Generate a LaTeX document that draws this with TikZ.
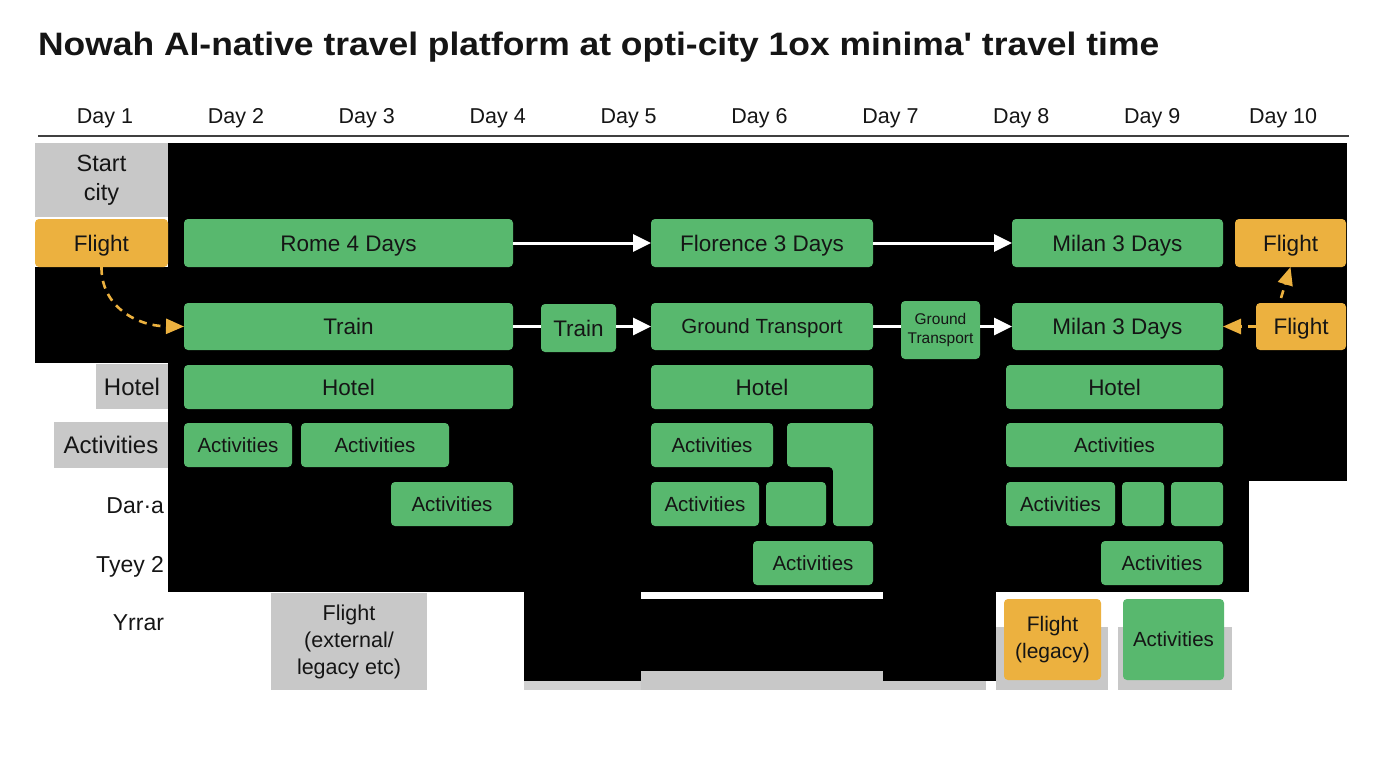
\documentclass[tikz,border=0pt]{standalone}
\usepackage{fontspec}
\setmainfont{Liberation Sans}
\newfontfamily\titlefont[Ligatures=TeXOff]{Liberation Sans}
\usetikzlibrary{arrows.meta,calc}
\definecolor{gboxc}{HTML}{58B86E}
\definecolor{oboxc}{HTML}{ECB13F}
\definecolor{grayc}{HTML}{C8C8C8}
\definecolor{inkc}{HTML}{151515}
\newcommand{\fs}[1]{\fontsize{#1}{#1}\selectfont}
\newcommand{\boxat}[7]{%
  \pgfmathsetmacro\bw{#5-#3}\pgfmathsetmacro\bh{#6-#4}%
  \node[#1, minimum width=\bw pt, minimum height=\bh pt] (#2) at ({(#3+#5)/2},{(#4+#6)/2}) {#7};}
\tikzset{
  base/.style={inner sep=0pt, outer sep=0pt, align=center, text=inkc},
  gbox/.style={base, fill=gboxc, rounded corners=4pt, font=\fs{22.5}, text height=16.1pt, text depth=0pt},
  gsmall/.style={gbox, font=\fs{20.5}, text height=14.7pt, text depth=0pt},
  obox/.style={base, fill=oboxc, rounded corners=4pt, font=\fs{22.5}, text height=16.1pt, text depth=0pt},
  graybox/.style={base, fill=grayc, font=\fs{24}, text height=17.2pt, text depth=0pt},
  multi/.style={text height={}, text depth={}},
  shadowbox/.style={base, fill=grayc},
  rowlabel/.style={base, anchor=base east, font=\fs{23}},
  dayhead/.style={base, anchor=base, font=\fs{21.5}},
  warrow/.style={draw=white, line width=3pt, -{Triangle[length=18pt,width=17pt]}},
  wline/.style={draw=white, line width=3pt},
  oarrow/.style={draw=oboxc, line width=2.6pt, dash pattern=on 8pt off 6pt, -{Triangle[length=18pt,width=15pt]}},
}
\begin{document}
\begin{tikzpicture}[x=1pt,y=-1pt]
\useasboundingbox (0,0) rectangle (1376,768);
% title
\node[base, anchor=base west] (title) at (38,56) {\resizebox{1121pt}{23.5pt}{\titlefont\bfseries Nowah AI-native travel platform at opti-city 1ox minima' travel time}};
% day headers
\foreach \i in {1,...,10} {
  \node[dayhead] (day\i) at ({105+130.9*(\i-1)},123) {Day \i};
}
\coordinate (hl) at (38,136);
\coordinate (hr) at (1349,136);
\draw[draw=black!75, line width=2pt] (hl) -- (hr);
% black backgrounds
\fill[black] (168,143) rectangle (1347,481);
\fill[black] (168,481) rectangle (1249,592);
\fill[black] (35,267) rectangle (168,363);
\fill[black!18] (524,681) rectangle (641,690);
\fill[grayc] (641,671) rectangle (883,690);
\fill[grayc] (883,681) rectangle (986,690);
\fill[black] (524,592) rectangle (641,681);
\fill[black] (641,599) rectangle (883,671);
\fill[black] (883,592) rectangle (996,681);
% left column
\boxat{graybox,multi,font={\fontsize{23.5}{29}\selectfont}}{start}{35}{143}{168}{217}{Start\\city}
\boxat{obox}{flightL}{35}{219}{168}{267}{Flight}
\boxat{graybox}{hotelL}{96}{364}{168}{409}{Hotel}
\boxat{graybox}{actL}{54}{422}{168}{468}{Activities}
\node[rowlabel] (dara) at (164,513) {Dar·a};
\node[rowlabel] (tyey) at (164,572) {Tyey 2};
\node[rowlabel] (yrrar) at (164,630) {Yrrar};
% row 1
\boxat{gbox}{rome}{184}{219}{513}{267}{Rome 4 Days}
\boxat{gbox}{flor}{651}{219}{873}{267}{Florence 3 Days}
\boxat{gbox}{milanA}{1012}{219}{1223}{267}{Milan 3 Days}
\boxat{obox}{flightRA}{1235}{219}{1346}{267}{Flight}
% row 2
\boxat{gbox}{train}{184}{303}{513}{350}{Train}
\boxat{gbox}{trainS}{541}{304}{616}{352}{Train}
\boxat{gsmall}{gt}{651}{303}{873}{350}{Ground Transport}
\boxat{gbox,multi,font={\fontsize{15.5}{19}\selectfont}}{gtS}{901}{301}{980}{359}{Ground\\Transport}
\boxat{gbox}{milanB}{1012}{303}{1223}{350}{Milan 3 Days}
\boxat{obox}{flightRB}{1256}{303}{1346}{350}{Flight}
% row 3
\boxat{gbox}{hotelA}{184}{365}{513}{409}{Hotel}
\boxat{gbox}{hotelB}{651}{365}{873}{409}{Hotel}
\boxat{gbox}{hotelC}{1006}{365}{1223}{409}{Hotel}
% row 4
\boxat{gsmall}{actA}{184}{423}{292}{467}{Activities}
\boxat{gsmall}{actB}{301}{423}{449}{467}{Activities}
\boxat{gsmall}{actC}{651}{423}{773}{467}{Activities}
\fill[gboxc, rounded corners=4pt] (787,423) -- (873,423) -- (873,526) -- (833,526) -- (833,467) -- (787,467) -- cycle;
\boxat{gsmall}{actD}{1006}{423}{1223}{467}{Activities}
% row 5
\boxat{gsmall}{actE}{391}{482}{513}{526}{Activities}
\boxat{gsmall}{actF}{651}{482}{759}{526}{Activities}
\boxat{gsmall}{blankA}{766}{482}{826}{526}{}
\boxat{gsmall}{actG}{1006}{482}{1115}{526}{Activities}
\boxat{gsmall}{blankB}{1122}{482}{1164}{526}{}
\boxat{gsmall}{blankC}{1171}{482}{1223}{526}{}
% row 6
\boxat{gsmall}{actH}{753}{541}{873}{585}{Activities}
\boxat{gsmall}{actI}{1101}{541}{1223}{585}{Activities}
% row 7
\boxat{graybox,multi,font={\fontsize{21.5}{27}\selectfont}}{flightExt}{271}{593}{427}{690}{Flight\\(external/\\legacy etc)}
\boxat{shadowbox}{shadowA}{996}{627}{1108}{690}{}
\boxat{obox,multi,font={\fontsize{21}{27}\selectfont}}{flightLeg}{1004}{599}{1101}{680}{Flight\\(legacy)}
\boxat{shadowbox}{shadowB}{1118}{627}{1232}{690}{}
\boxat{gsmall}{actJ}{1123}{599}{1224}{680}{Activities}
% white connectors
\draw[warrow] (rome.east) -- (flor.west);
\draw[warrow] (flor.east) -- (milanA.west);
\draw[wline] (train.east) -- (trainS.west |- train.east);
\draw[warrow] (trainS.east |- gt.west) -- (gt.west);
\draw[wline] (gt.east) -- (gtS.west |- gt.east);
\draw[warrow] (gtS.east |- milanB.west) -- (milanB.west);
% orange dashed connectors
\draw[oarrow] (flightL.south) .. controls (101,305) and (135,326) .. (train.west);
\draw[oarrow] (flightRB.west) -- (milanB.east);
\draw[oarrow] ($(flightRB.north)+(-20,-5)$) -- (flightRA.south);
\end{tikzpicture}
\end{document}
